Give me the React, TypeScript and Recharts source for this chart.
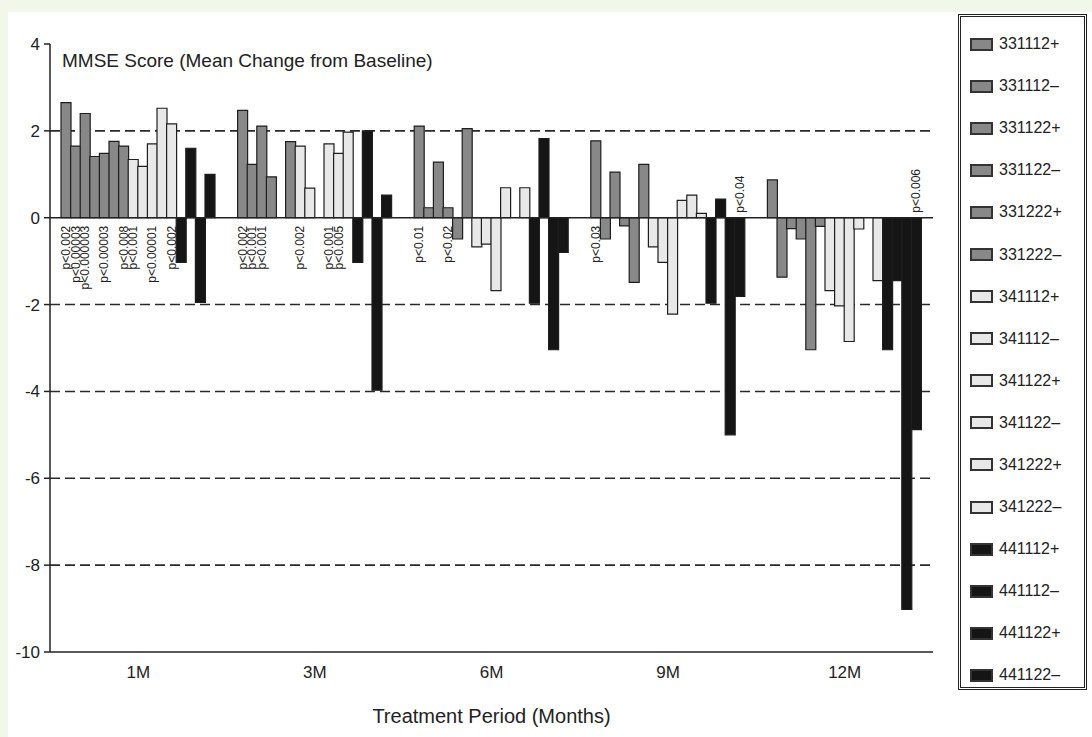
import React from 'react';
import { BarChart, Bar, XAxis, YAxis, CartesianGrid, ReferenceLine, Legend, LabelList, Cell } from 'recharts';

// ---------- data ----------
const categories = ['1M', '3M', '6M', '9M', '12M'];

const seriesNames = [
  '331112+', '331112–', '331122+', '331122–', '331222+', '331222–',
  '341112+', '341112–', '341122+', '341122–', '341222+', '341222–',
  '441112+', '441112–', '441122+', '441122–',
];

const v331112p = [2.65, 2.47, 2.11, 1.77, 0.87];
const v331112m = [1.65, 1.23, 0.23, -0.49, -1.37];
const v331122p = [2.4, 2.11, 1.28, 1.05, -0.25];
const v331122m = [1.41, 0.94, 0.23, -0.19, -0.49];
const v331222p = [1.48, 0, -0.49, -1.49, -3.04];
const v331222m = [1.76, 1.75, 2.05, 1.23, -0.2];
const v341112p = [1.65, 1.65, -0.67, -0.67, -1.68];
const v341112m = [1.34, 0.68, -0.61, -1.03, -2.03];
const v341122p = [1.18, 0, -1.68, -2.22, -2.85];
const v341122m = [1.7, 1.7, 0.69, 0.4, -0.26];
const v341222p = [2.52, 1.48, 0, 0.52, 0];
const v341222m = [2.16, 1.97, 0.69, 0.1, -1.45];
const v441112p = [-1.03, -1.03, -1.97, -1.97, -3.04];
const v441112m = [1.6, 2.0, 1.82, 0.43, -1.45];
const v441122p = [-1.95, -3.97, -3.04, -5.0, -9.02];
const v441122m = [1.0, 0.52, -0.8, -1.81, -4.88];

const seriesValues = [
  v331112p, v331112m, v331122p, v331122m, v331222p, v331222m,
  v341112p, v341112m, v341122p, v341122m, v341222p, v341222m,
  v441112p, v441112m, v441122p, v441122m,
];

// p-value annotations (per category, per series) below / above the zero line
const pBelow1M = ['p<0.002', 'p<0.00003', 'p<0.000003', '', 'p<0.00003', '', 'p<0.008', 'p<0.001', '', 'p<0.00001', '', 'p<0.002', '', '', '', ''];
const pBelow3M = ['p<0.002', 'p<0.001', 'p<0.001', '', 'p<0.01', '', 'p<0.002', '', '', 'p<0.001', 'p<0.005', '', '', '', '', ''];
const pBelow6M = ['p<0.01', '', '', 'p<0.02', '', '', '', '', '', '', '', '', '', '', '', ''];
const pBelow9M = ['p<0.03', '', '', '', '', '', '', '', '', '', '', '', '', '', '', ''];
const pBelow12M = ['', '', '', '', '', '', '', '', '', '', '', '', '', '', '', ''];
const pAbove9M = ['', '', '', '', '', '', '', '', '', '', '', '', '', '', '', 'p<0.04'];
const pAbove12M = ['', '', '', '', '', '', '', '', '', '', '', '', '', '', '', 'p<0.006'];
const pBelow = [pBelow1M, pBelow3M, pBelow6M, pBelow9M, pBelow12M];
const pAbove = [[], [], [], pAbove9M, pAbove12M];

const yTicks = [-10, -8, -6, -4, -2, 0, 2, 4];
const gridValues = [2, -2, -4, -6, -8];

// ---------- styles ----------
const DARK = '#888888';
const LIGHT = '#e8e8e8';
const BLACK = '#151515';
const groupColor = (si: number) => (si < 6 ? DARK : si < 12 ? LIGHT : BLACK);
// in the original, the 341112+ bar at 1M is printed in the darker grey
const colorOverride: Record<string, string> = { '6-0': DARK };
const FONT = '"Liberation Sans", Arial, sans-serif';

const data = categories.map((c, ci) => {
  const row: Record<string, any> = { month: c };
  seriesValues.forEach((arr, si) => {
    row['s' + si] = arr[ci];
    row['pb' + si] = pBelow[ci][si] || '';
    row['pa' + si] = pAbove[ci][si] || '';
  });
  return row;
});

const makePLabel = (si: number, above: boolean) => (props: any) => {
  const { value, index } = props;
  if (!value) return null;
  const vb = props.viewBox || props;
  const v = seriesValues[si][index];
  const top = Math.min(vb.y, vb.y + vb.height);
  const bottom = Math.max(vb.y, vb.y + vb.height);
  const zero = v >= 0 ? bottom : top;
  const x = vb.x + vb.width / 2 + 4;
  const y = above ? zero - 5 : zero + 8;
  return (
    <text
      x={x}
      y={y}
      transform={`rotate(-90 ${x} ${y})`}
      textAnchor={above ? 'start' : 'end'}
      fontSize={12}
      fontFamily={FONT}
      fill="#222"
    >
      {value}
    </text>
  );
};

const LegendBox = () => (
  <div
    style={{
      width: 129,
      height: 676,
      border: '3px double #222',
      boxSizing: 'border-box',
      paddingTop: 6,
      paddingLeft: 9,
      background: '#fff',
      fontFamily: FONT,
    }}
  >
    {seriesNames.map((n, si) => (
      <div key={n} style={{ height: 42.1, display: 'flex', alignItems: 'center' }}>
        <div
          style={{
            width: 23,
            height: 13,
            background: groupColor(si),
            border: '2px solid #333',
            boxSizing: 'border-box',
            marginRight: 6,
          }}
        />
        <span style={{ fontSize: 16, color: '#222', lineHeight: '16px' }}>{n}</span>
      </div>
    ))}
  </div>
);

export default function App() {
  return (
    <div style={{ position: 'absolute', left: 0, top: 0, width: 1092, height: 737, background: '#f1f8ea', overflow: 'hidden' }}>
      <div style={{ position: 'absolute', left: 8, top: 12, width: 1084, height: 725, background: '#ffffff' }} />
      <div style={{ position: 'absolute', left: 0, top: 0 }}>
        <BarChart
          width={1092}
          height={737}
          data={data}
          margin={{ top: 44, right: 159, bottom: 0, left: 10 }}
          barCategoryGap="6%"
          barGap={-0.4}
        >
          <CartesianGrid
            vertical={false}
            horizontalValues={gridValues}
            stroke="#2a2a2a"
            strokeWidth={1.6}
            strokeDasharray="10 5"
          />
          <XAxis
            dataKey="month"
            height={85}
            tickLine={false}
            tickSize={6}
            tickMargin={8}
            axisLine={{ stroke: '#222', strokeWidth: 1.5 }}
            tick={{ fontSize: 17, fill: '#222', fontFamily: FONT }}
            label={{ value: 'Treatment Period (Months)', position: 'insideBottom', offset: 14, fontSize: 20, fill: '#222', fontFamily: FONT }}
          />
          <YAxis
            type="number"
            domain={[-10, 4]}
            ticks={yTicks}
            interval={0}
            width={40}
            tickSize={6}
            tickMargin={4}
            axisLine={{ stroke: '#222', strokeWidth: 1.5 }}
            tickLine={{ stroke: '#222', strokeWidth: 1.5 }}
            tick={{ fontSize: 17, fill: '#222', fontFamily: FONT }}
          />
          <ReferenceLine y={0} stroke="#222" strokeWidth={1.5} />
          {seriesNames.map((n, si) => (
            <Bar
              key={n}
              dataKey={'s' + si}
              name={n}
              fill={groupColor(si)}
              stroke="#1e1e1e"
              strokeWidth={1.2}
              barSize={10}
              isAnimationActive={false}
            >
              {categories.map((c, ci) => (
                <Cell key={c} fill={colorOverride[`${si}-${ci}`] || groupColor(si)} />
              ))}
              <LabelList dataKey={'pb' + si} content={makePLabel(si, false)} />
              <LabelList dataKey={'pa' + si} content={makePLabel(si, true)} />
            </Bar>
          ))}
          <Legend
            layout="horizontal"
            verticalAlign="middle"
            align="center"
            wrapperStyle={{ left: 958, top: 14, width: 129, height: 676, margin: 0 }}
            content={() => <LegendBox />}
          />
        </BarChart>
      </div>
      <div
        style={{
          position: 'absolute',
          left: 62,
          top: 51,
          fontSize: 19,
          lineHeight: '19px',
          fontFamily: FONT,
          color: '#222',
          whiteSpace: 'nowrap',
        }}
      >
        MMSE Score (Mean Change from Baseline)
      </div>
    </div>
  );
}
